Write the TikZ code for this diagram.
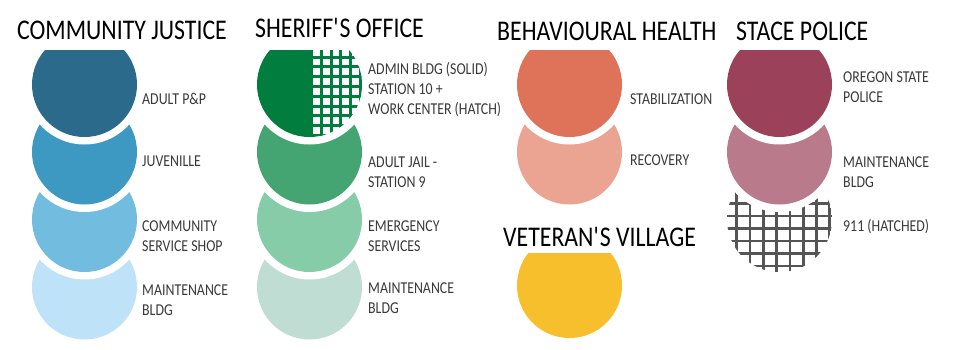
\documentclass[tikz,border=0pt]{standalone}
\usepackage{fontspec}
\setmainfont{Carlito}[FakeStretch=0.835]
\definecolor{cjA}{HTML}{2B6A8A}
\definecolor{cjB}{HTML}{3D98C2}
\definecolor{cjC}{HTML}{72BCE0}
\definecolor{cjD}{HTML}{BEE3F8}
\definecolor{shA}{HTML}{017D3D}
\definecolor{shB}{HTML}{45A572}
\definecolor{shC}{HTML}{87CCA8}
\definecolor{shD}{HTML}{BFDDD2}
\definecolor{bhA}{HTML}{DE735A}
\definecolor{bhB}{HTML}{EBA392}
\definecolor{vetY}{HTML}{F7BF2B}
\definecolor{spA}{HTML}{9B425A}
\definecolor{spB}{HTML}{B97A8C}
\definecolor{hatchgray}{HTML}{555555}
\definecolor{labgray}{HTML}{3A3A3A}
\newcommand\drawbubble[3]{%
  \fill[white] (#1,#2) circle[radius=60pt];
  \fill[#3] (#1,#2) circle[radius=52.5pt];}
\begin{document}
\begin{tikzpicture}[x=1pt,y=-1pt,
  head/.style={anchor=base west, inner sep=0pt, font=\fontsize{28.5}{32}\selectfont, text=black},
  lab/.style={anchor=west, inner sep=0pt, align=left, font=\fontsize{16.6}{20}\selectfont, text=labgray},
  greengrid/.style={draw=shA, line width=3pt},
  greygrid/.style={draw=hatchgray, line width=2.7pt}]
\useasboundingbox (0,0) rectangle (964,349);

% ---------- Community Justice ----------
\begin{scope}
  \clip (0,50) rectangle (240,349);
  \drawbubble{84.5}{287}{cjD}
  \drawbubble{84.5}{219.5}{cjC}
  \drawbubble{84.5}{152}{cjB}
  \drawbubble{84.5}{84.5}{cjA}
\end{scope}

% ---------- Sheriff's Office ----------
\begin{scope}
  \clip (245,50) rectangle (368,349);
  \drawbubble{309.5}{287}{shD}
  \drawbubble{309.5}{219.5}{shC}
  \drawbubble{309.5}{152}{shB}
  \fill[white] (309.5,84.5) circle[radius=60pt];
  \begin{scope}
    \clip (309.5,84.5) circle[radius=52.5pt];
    \fill[shA] (250,0) rectangle (309.5,349);
    \foreach \gx in {311.5,321.3,331.1,340.9,350.7,360.5}
      \draw[greengrid] (\gx,40) -- (\gx,140);
    \foreach \gy in {57,66.8,76.6,86.4,96.2,106,115.8,125.6,135.4}
      \draw[greengrid] (309.5,\gy) -- (370,\gy);
  \end{scope}
\end{scope}

% ---------- Behavioural Health ----------
\begin{scope}
  \clip (500,50) rectangle (640,240);
  \drawbubble{569.5}{152}{bhB}
  \drawbubble{569.5}{84.5}{bhA}
\end{scope}

% ---------- Veteran's Village ----------
\begin{scope}
  \clip (500,253) rectangle (640,349);
  \fill[vetY] (569.5,285.5) circle[radius=52.5pt];
\end{scope}

% ---------- State Police ----------
\begin{scope}
  \clip (715,50) rectangle (845,349);
  \begin{scope}
    \clip (779.5,219.5) circle[radius=52.5pt];
    \foreach \gx in {736.7,750,763.3,776.6,789.9,803.2,816.5,829.8}
      \draw[greygrid] (\gx,160) -- (\gx,280);
    \foreach \gy in {203.5,216,228.5,241,253.5,266}
      \draw[greygrid] (720,\gy) -- (840,\gy);
  \end{scope}
  \drawbubble{779.5}{152}{spB}
  \drawbubble{779.5}{84.5}{spA}
\end{scope}

% ---------- Headings ----------
\node[head] (hCJ) at (17,39.5) {COMMUNITY JUSTICE};
\node[head] (hSO) at (255,37.5) {SHERIFF\textquotesingle S OFFICE};
\node[head] (hBH) at (497,40) {BEHAVIOURAL HEALTH};
\node[head] (hVV) at (503,246) {VETERAN\textquotesingle S VILLAGE};
\node[head] (hSP) at (736,40) {STACE POLICE};

% ---------- Labels ----------
\node[lab] (lCJ1) at (142,99) {ADULT P\&P};
\node[lab] (lCJ2) at (142,161.5) {JUVENILLE};
\node[lab] (lCJ3) at (142,236) {COMMUNITY\\SERVICE SHOP};
\node[lab] (lCJ4) at (142,300.5) {MAINTENANCE\\BLDG};

\node[lab] (lSO1) at (368,89.5) {ADMIN BLDG (SOLID)\\STATION 10 +\\WORK CENTER (HATCH)};
\node[lab] (lSO2) at (368,172.5) {ADULT JAIL -\\STATION 9};
\node[lab] (lSO3) at (368,236) {EMERGENCY\\SERVICES};
\node[lab] (lSO4) at (368,298) {MAINTENANCE\\BLDG};

\node[lab] (lBH1) at (630,99) {STABILIZATION};
\node[lab] (lBH2) at (630,160) {RECOVERY};

\node[lab] (lSP1) at (843,87) {OREGON STATE\\POLICE};
\node[lab] (lSP2) at (843,172) {MAINTENANCE\\BLDG};
\node[lab] (lSP3) at (843,227) {911 (HATCHED)};
\end{tikzpicture}
\end{document}
